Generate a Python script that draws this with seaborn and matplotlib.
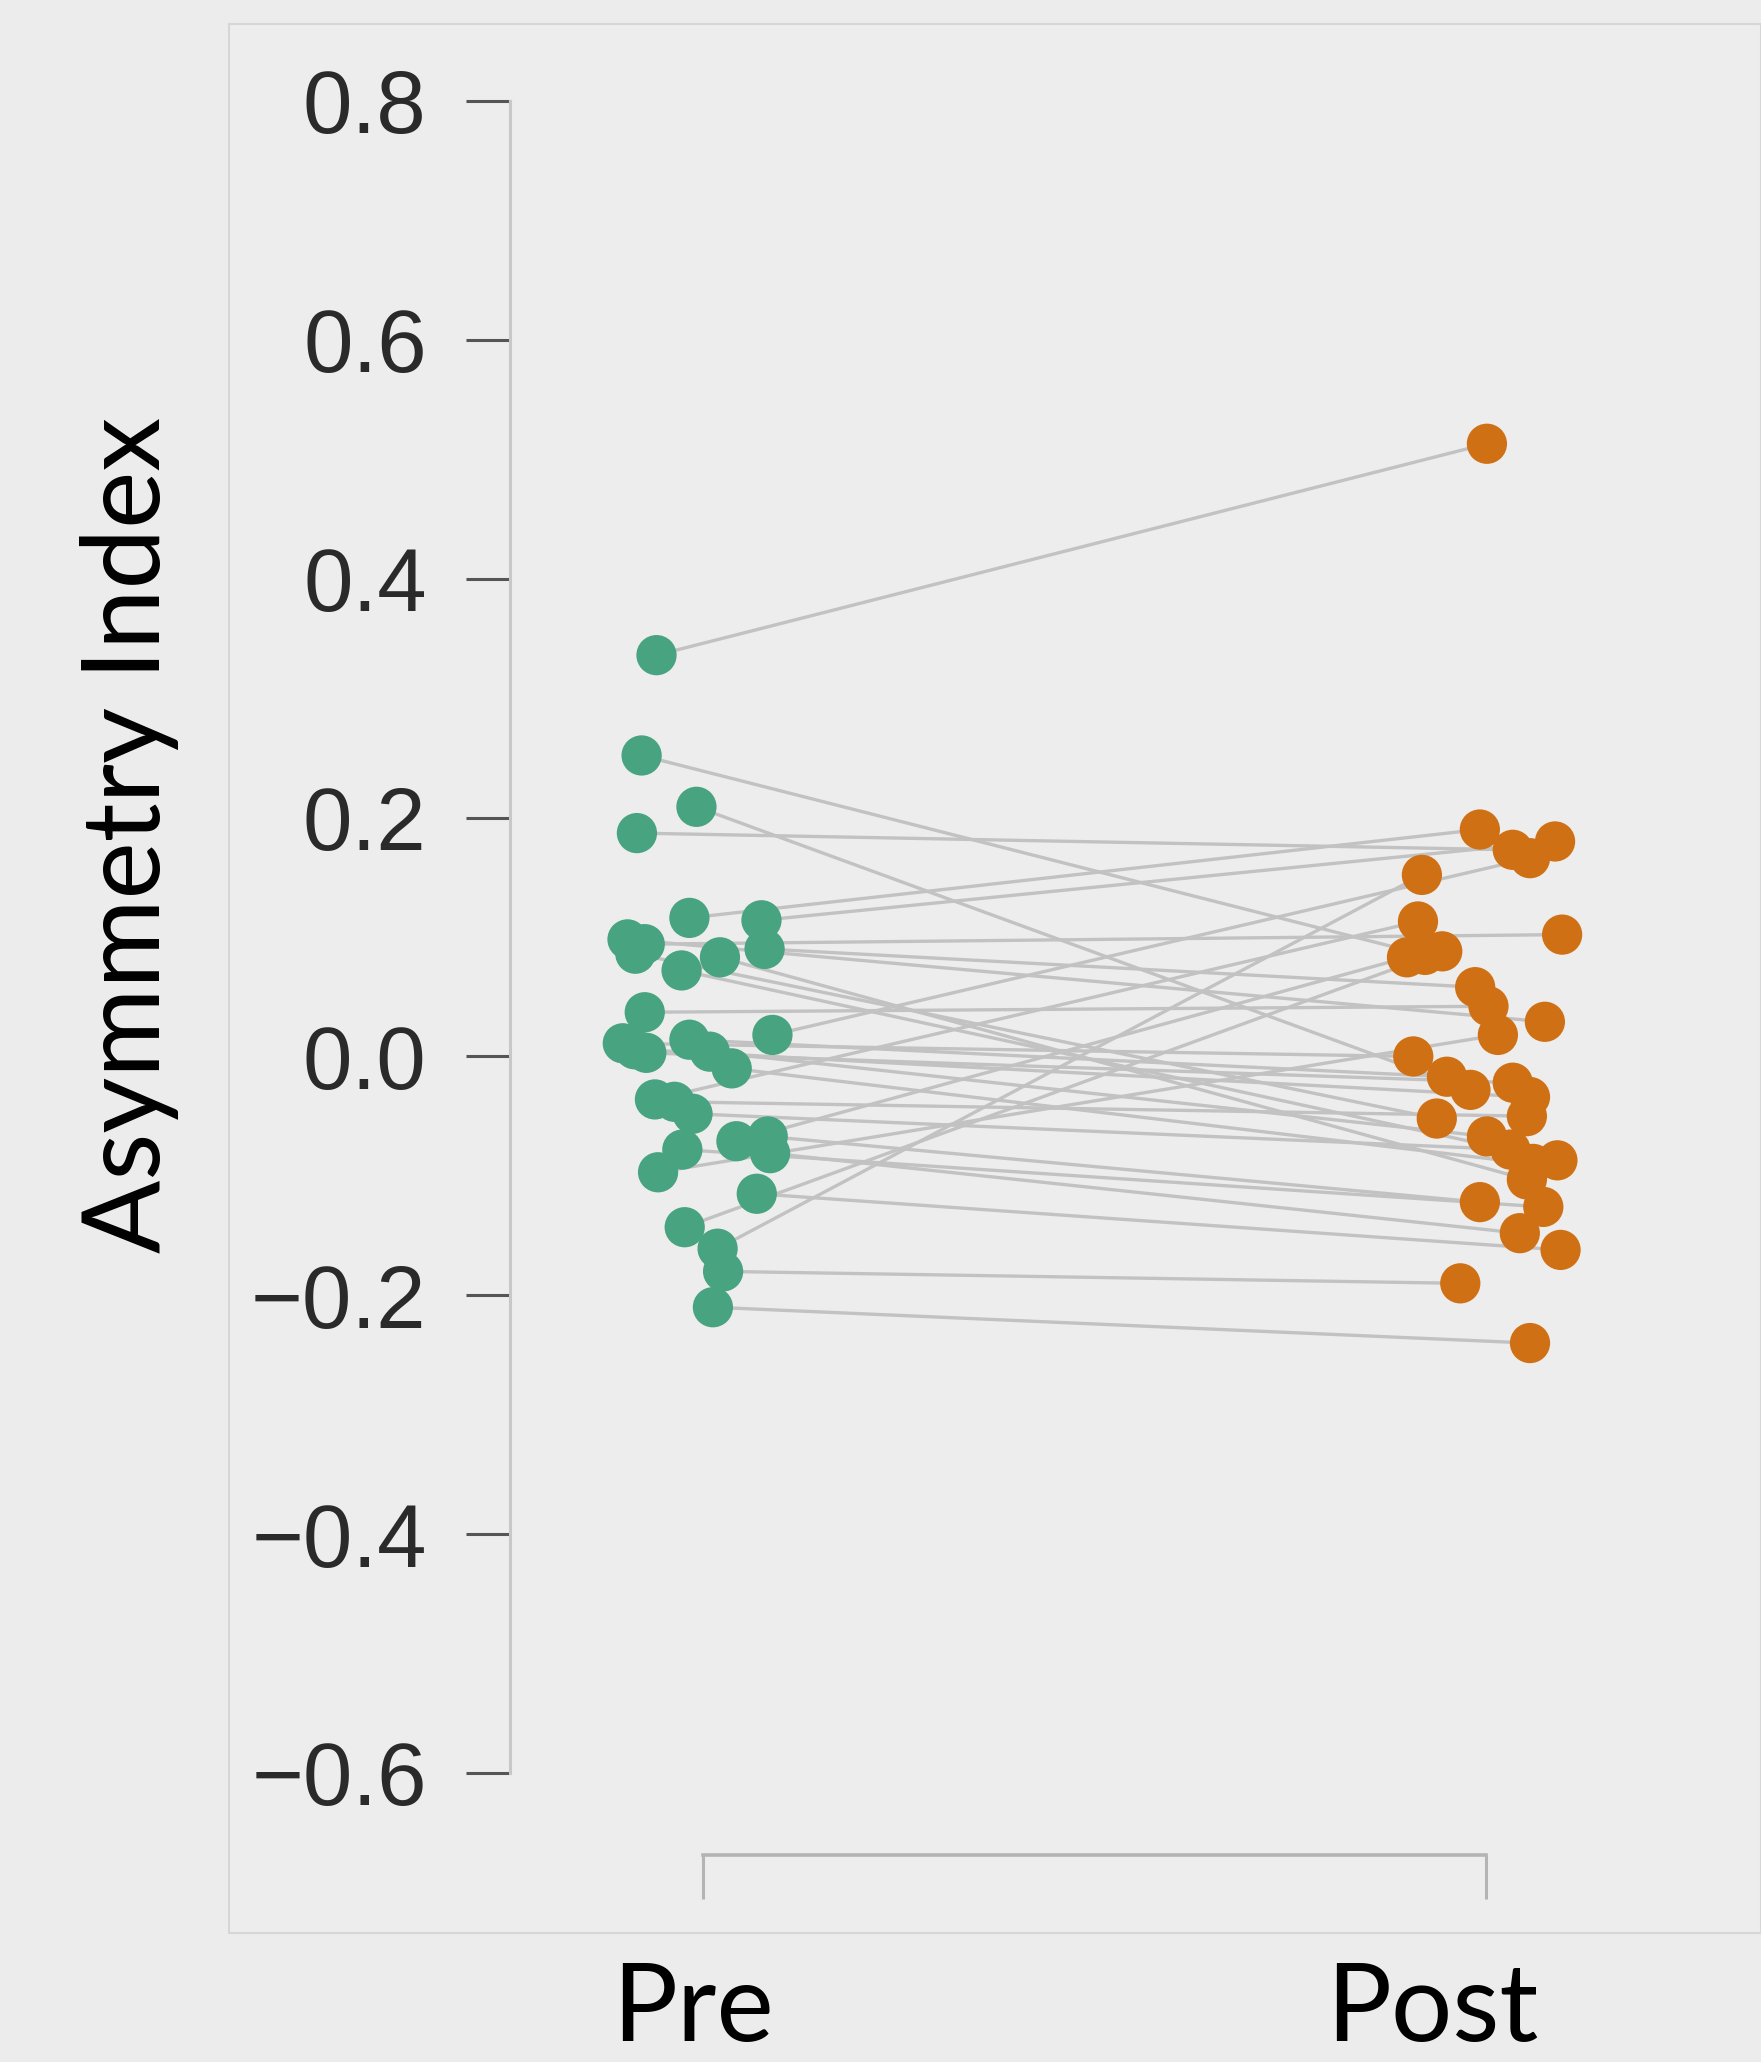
import matplotlib
matplotlib.use("Agg")
import matplotlib.pyplot as plt
from matplotlib.patches import Rectangle
import seaborn as sns
import pandas as pd
import numpy as np

# ---------------- data ----------------
conditions = ["Pre", "Post"]

pre_values = [0.336, 0.252, 0.209, 0.187, 0.116, 0.114, 0.098, 0.094, 0.090, 0.086,
              0.083, 0.072, 0.037, 0.018, 0.014, 0.011, 0.006, 0.004, 0.003, -0.010,
              -0.036, -0.038, -0.048, -0.067, -0.071, -0.078, -0.081, -0.097, -0.115,
              -0.143, -0.161, -0.180, -0.210]
post_values = [0.513, 0.085, -0.028, 0.173, 0.190, 0.180, 0.029, 0.102, 0.058, -0.052,
               -0.103, -0.087, 0.042, 0.166, -0.017, 0.000, -0.034, -0.067, -0.022, -0.090,
               0.113, -0.050, -0.078, -0.122, 0.083, -0.126, -0.148, 0.018, -0.162,
               0.088, 0.152, -0.190, -0.240]
# horizontal jitter of each dot (category units)
pre_jitter = [-0.059, -0.078, -0.008, -0.084, -0.017, 0.075, -0.096, -0.074, 0.079, -0.086,
              0.022, -0.027, -0.074, 0.089, -0.017, -0.102, -0.087, 0.009, -0.072, 0.037,
              -0.061, -0.036, -0.013, 0.083, 0.043, -0.026, 0.086, -0.057, 0.069,
              -0.023, 0.019, 0.026, 0.013]
post_jitter = [0.001, -0.078, -0.020, 0.034, -0.008, 0.088, 0.075, 0.097, -0.014, -0.063,
               0.052, 0.091, 0.003, 0.056, -0.050, -0.093, 0.056, 0.001, 0.034, 0.060,
               -0.087, 0.052, 0.031, -0.008, -0.101, 0.073, 0.043, 0.015, 0.095,
               -0.056, -0.082, -0.033, 0.056]
y_ticks = [0.8, 0.6, 0.4, 0.2, 0.0, -0.2, -0.4, -0.6]
y_label = "Asymmetry Index"

# ---------------- build table ----------------
n = len(pre_values)
df = pd.DataFrame({
    "subject": list(range(n)) * 2,
    "condition": ["Pre"] * n + ["Post"] * n,
    "value": pre_values + post_values,
    "xpos": [0 + j for j in pre_jitter] + [1 + j for j in post_jitter],
})

# ---------------- style ----------------
sns.set_style("ticks")
plt.rcParams["font.family"] = ["Liberation Sans", "DejaVu Sans"]
plt.rcParams["axes.unicode_minus"] = True

W, H = 1761, 2062
fig = plt.figure(figsize=(W / 100, H / 100), dpi=100, facecolor="#ececec")

# inner panel (behind the axes)
fig.patches.append(Rectangle((229 / W, 1 - 1933 / H), (W - 229) / W, (1933 - 24) / H,
                             transform=fig.transFigure, facecolor="#ededed",
                             edgecolor="#d6d6d6", lw=1.5, zorder=-10))

ax = fig.add_axes([510 / W, 1 - 1773 / H, (1700 - 510) / W, (1773 - 101) / H])
ax.set_facecolor("none")
ax.set_zorder(5)

sns.lineplot(data=df, x="xpos", y="value", units="subject", estimator=None,
             color="#c2c2c2", lw=2.4, ax=ax, legend=False, zorder=1, sort=False)
sns.scatterplot(data=df, x="xpos", y="value", hue="condition",
                palette={"Pre": "#48a380", "Post": "#d07015"},
                s=840, linewidth=0, ax=ax, legend=False, zorder=3)

ax.set_ylim(-0.6, 0.8)
ax.set_xlim(-0.246, 1.273)
ax.set_yticks(y_ticks)
ax.set_yticklabels([f"{t:.1f}".replace("-", "\u2212") for t in y_ticks],
                   fontsize=64, color="#2a2a2a")
ax.set_xticks([0, 1])
ax.set_xticklabels(["", ""])
ax.set_xlabel("")
ax.set_ylabel("")

for side in ["top", "right"]:
    ax.spines[side].set_visible(False)
ax.spines["left"].set_bounds(-0.6, 0.8)
ax.spines["left"].set_color("#c8c8c8")
ax.spines["left"].set_linewidth(2.2)
ax.spines["bottom"].set_position(("outward", 59))
ax.spines["bottom"].set_bounds(0, 1)
ax.spines["bottom"].set_color("#b4b4b4")
ax.spines["bottom"].set_linewidth(2.6)
ax.tick_params(axis="y", length=32, width=2.2, color="#555555", pad=28)
ax.tick_params(axis="x", length=32, width=2.2, color="#b4b4b4")

# labels outside the panel
fig.text(160 / W, 1 - 835 / H, y_label, rotation=90, rotation_mode="anchor",
         ha="center", va="baseline", fontsize=78, color="black",
         family=["Lato", "DejaVu Sans"])
for lab, xc in zip(conditions, [693, 1432]):
    fig.text(xc / W, 0.001, lab, ha="center", va="bottom", fontsize=78,
             color="black", family=["Lato", "DejaVu Sans"])

fig.savefig("out.png", dpi=100, facecolor=fig.get_facecolor())
